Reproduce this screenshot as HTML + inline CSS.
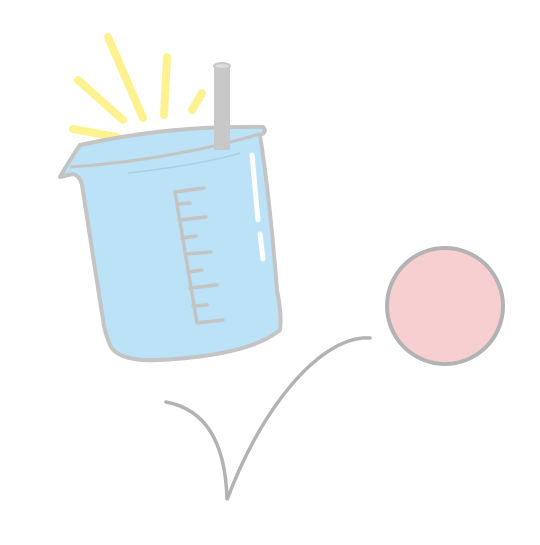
<!DOCTYPE html>
<html><head><meta charset="utf-8"><style>html,body{margin:0;padding:0;background:#fff}svg{display:block}</style></head>
<body>
<svg width="540" height="545" viewBox="0 0 540 545">
  <g stroke="#fdf290" stroke-width="8" stroke-linecap="round">
    <line x1="108" y1="37" x2="143" y2="118"/>
    <line x1="78" y1="80" x2="123" y2="120"/>
    <line x1="167" y1="57" x2="164" y2="115"/>
    <line x1="202" y1="93" x2="192" y2="110"/>
    <line x1="73" y1="129" x2="117" y2="137"/>
  </g>
  <path d="M60,177 Q66,166 80,145 Q170,125 263,127 Q268,132 260,135 Q270,200 277,290 Q282,315 280,330 Q250,355 160,360 Q118,362 110,345 Q104,330 103,320 L82,185 Q80,176 73,174 Z" fill="#bbe2f6" stroke="#c4c4c4" stroke-width="4" stroke-linejoin="round"/>
  <path d="M70,167 Q170,160 260,134" fill="none" stroke="#c4c4c4" stroke-width="3"/>
  <path d="M128,173 Q200,165 240,153" fill="none" stroke="#a9cfe4" stroke-width="1.5"/>
  <rect x="214" y="65" width="16" height="85" fill="#c8c8c8"/>
  <ellipse cx="222" cy="66" rx="8" ry="3" fill="#dcdcdc" stroke="#c8c8c8" stroke-width="2"/>
  <g stroke="#c4c4c4" stroke-width="3.5" stroke-linecap="round" fill="none">
    <path d="M204,188 L175,192 L197,323 L223,320"/>
    <line x1="178" y1="204" x2="190" y2="203"/>
    <line x1="180" y1="220" x2="206" y2="217"/>
    <line x1="182" y1="238" x2="196" y2="236"/>
    <line x1="185" y1="254" x2="211" y2="252"/>
    <line x1="188" y1="272" x2="202" y2="270"/>
    <line x1="190" y1="288" x2="217" y2="285"/>
    <line x1="193" y1="306" x2="207" y2="305"/>
  </g>
  <g stroke="#fff" stroke-width="5" stroke-linecap="round">
    <line x1="252" y1="155" x2="258" y2="220"/>
    <line x1="260" y1="234" x2="263" y2="259"/>
  </g>
  <circle cx="445" cy="306" r="58" fill="#f7cfd1" stroke="#b3b3b3" stroke-width="4"/>
  <path d="M166,402 Q225,413 227,500 C260,410 320,335 370,338" fill="none" stroke="#b3b3b3" stroke-width="3.5" stroke-linecap="round"/>
</svg>
</body></html>
